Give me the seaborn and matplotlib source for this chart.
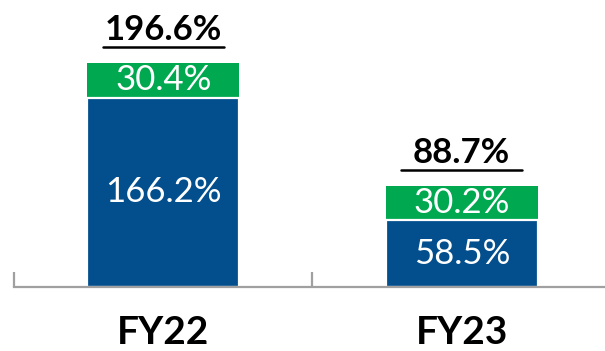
import matplotlib
matplotlib.use("Agg")
import matplotlib.pyplot as plt
import seaborn as sns
import pandas as pd

years = ["FY22", "FY23"]
base_pct = [166.2, 58.5]
extra_pct = [30.4, 30.2]
total_pct = [196.6, 88.7]

BLUE = "#034F8E"
GREEN = "#00A950"
AXIS_GREY = "#A0A0A0"

sns.set_theme(style="white")
plt.rcParams["font.family"] = ["Lato", "DejaVu Sans"]

df = pd.DataFrame({"year": years, "base": base_pct, "extra": extra_pct, "total": total_pct})

fig = plt.figure(figsize=(6.05, 3.51), dpi=100)
ax = fig.add_axes([14 / 605, 1 - 287 / 351, 1 - 14 / 605, 287 / 351])

# Full-height bars in green, with the base component overlaid in blue
sns.barplot(data=df, x="year", y="total", color=GREEN, width=0.51, saturation=1,
            edgecolor="white", linewidth=0, ax=ax)
sns.barplot(data=df, x="year", y="base", color=BLUE, width=0.51, saturation=1,
            edgecolor="white", linewidth=1.6, ax=ax)

ax.set_xlim(-0.5, 1.48)
ax.set_ylim(0, 252)
ax.set_xlabel("")
ax.set_ylabel("")
ax.set_yticks([])
ax.set_xticks([])
for s in ["top", "right", "left"]:
    ax.spines[s].set_visible(False)
ax.spines["bottom"].set_color(AXIS_GREY)
ax.spines["bottom"].set_linewidth(1.6)

# Category separators on the baseline
for xb in [-0.5, 0.5]:
    ax.plot([xb, xb], [0, 13], color=AXIS_GREY, lw=1.6, clip_on=False, solid_capstyle="butt")

for i, (b, e, t, yr) in enumerate(zip(base_pct, extra_pct, total_pct, years)):
    ax.text(i, b / 2, f"{b:.1f}%", ha="center", va="center", color="white", fontsize=25)
    ax.text(i, b + e / 2, f"{e:.1f}%", ha="center", va="center", color="white", fontsize=25)
    ax.text(i, t + 29, f"{t:.1f}%", ha="center", va="center", color="black",
            fontsize=25, fontweight="bold")
    ax.plot([i - 0.203, i + 0.203], [t + 14, t + 14], color="black", lw=1.8, clip_on=False)
    ax.text(i, -40, yr, ha="center", va="center", color="black", fontsize=28,
            fontweight="bold")

fig.savefig("out.png", dpi=100)
